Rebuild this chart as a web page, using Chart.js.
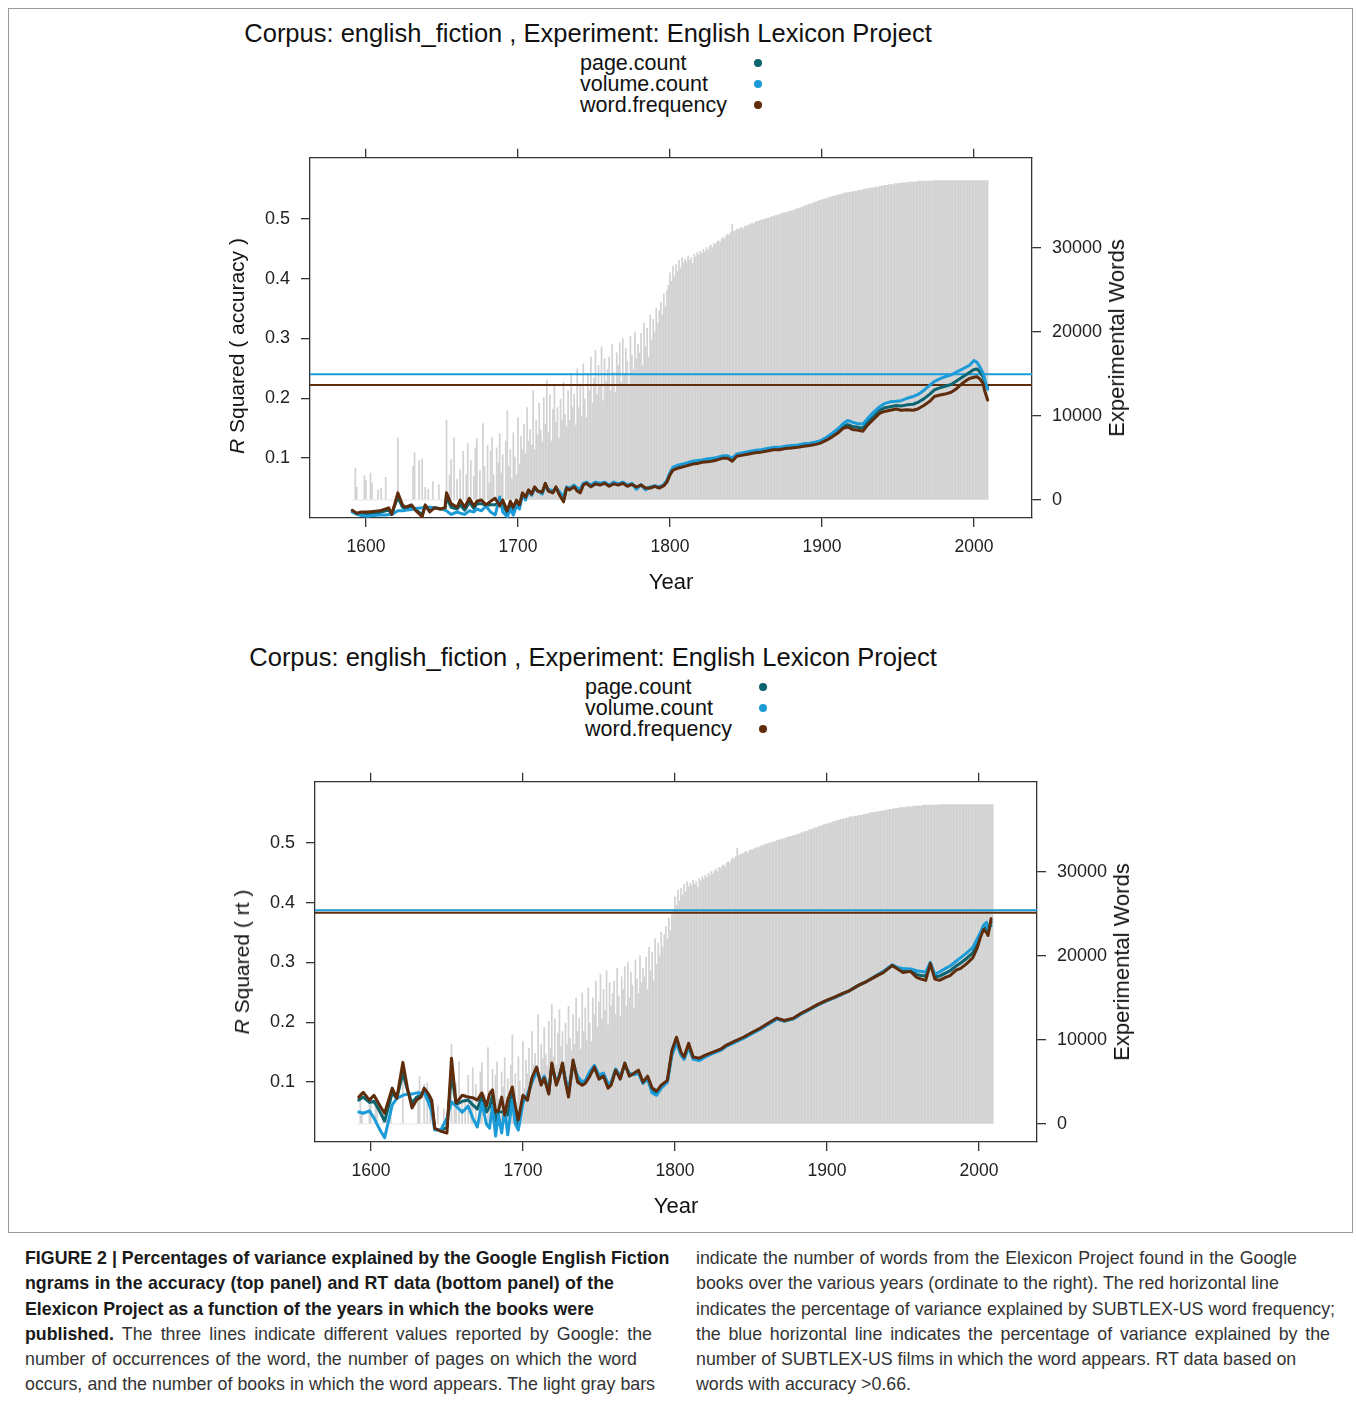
<!DOCTYPE html>
<html>
<head>
<meta charset="utf-8">
<title>Google English Fiction ngrams - ELP</title>
<script src="https://cdn.jsdelivr.net/npm/chart.js@4.4.1/dist/chart.umd.min.js"></script>
<style>
  body { margin: 0; width: 1356px; height: 1405px; background: #fff; position: relative; font-family: 'Liberation Sans', Arial, Helvetica, sans-serif; color: #111; overflow: hidden; }
  .frame { position: absolute; left: 8px; top: 8px; width: 1345px; height: 1225px; border: 1px solid #9a9a9a; box-sizing: border-box; }
  .panel { position: absolute; left: 0; top: 0; width: 1356px; height: 620px; }
  .title { position: absolute; left: 88px; width: 1000px; top: 18px; line-height: 30px; font-size: 25.5px; text-align: center; white-space: nowrap; }
  .legend { position: absolute; left: 580px; top: 53px; font-size: 21.5px; line-height: 21px; }
  .dot { position: absolute; left: 754px; width: 8px; height: 8px; border-radius: 50%; }
  .rot { position: absolute; font-size: 21px; white-space: nowrap; transform: translate(-50%, -50%) rotate(-90deg); }
  .rot.r2 { font-size: 22px; }
  .xlab { position: absolute; font-size: 22px; transform: translate(-50%, -50%); }
  canvas { position: absolute; left: 200px; top: 136px; }
  .caption { position: absolute; top: 1246px; font-size: 17.8px; line-height: 25.3px; color: #333; }
  .caption div { white-space: nowrap; text-align: justify; text-align-last: justify; }
  .caption div.last { text-align-last: left; }
  .caption b { color: #1a1a1a; }
</style>
</head>
<body>
<div class="frame"></div>

<div class="panel" id="panelTop">
  <div class="title">Corpus: english_fiction , Experiment: English Lexicon Project</div>
  <div class="legend">page.count<br>volume.count<br>word.frequency</div>
  <span class="dot" style="top:59px;background:#0b6470"></span>
  <span class="dot" style="top:80px;background:#1b9bd7"></span>
  <span class="dot" style="top:101px;background:#5f2c0c"></span>
  <canvas id="chartTop" width="1000" height="474"></canvas>
  <div class="rot" style="left:237px;top:346px"><i>R</i> Squared ( accuracy )</div>
  <div class="rot r2" style="left:1117px;top:338px">Experimental Words</div>
  <div class="xlab" style="left:671px;top:582px">Year</div>
</div>

<div class="panel" id="panelBottom" style="left:5px;top:624px">
  <div class="title">Corpus: english_fiction , Experiment: English Lexicon Project</div>
  <div class="legend">page.count<br>volume.count<br>word.frequency</div>
  <span class="dot" style="top:59px;background:#0b6470"></span>
  <span class="dot" style="top:80px;background:#1b9bd7"></span>
  <span class="dot" style="top:101px;background:#5f2c0c"></span>
  <canvas id="chartBottom" width="1000" height="474"></canvas>
  <div class="rot" style="left:237px;top:338px"><i>R</i> Squared ( rt )</div>
  <div class="rot r2" style="left:1117px;top:338px">Experimental Words</div>
  <div class="xlab" style="left:671px;top:582px">Year</div>
</div>

<div class="caption" style="left:25px">
  <div style="width:640px"><b>FIGURE 2 | Percentages of variance explained by the Google English Fiction</b></div>
  <div style="width:589px"><b>ngrams in the accuracy (top panel) and RT data (bottom panel) of the</b></div>
  <div style="width:569px"><b>Elexicon Project as a function of the years in which the books were</b></div>
  <div style="width:627px"><b>published.</b> The three lines indicate different values reported by Google: the</div>
  <div style="width:612px">number of occurrences of the word, the number of pages on which the word</div>
  <div style="width:630px">occurs, and the number of books in which the word appears. The light gray bars</div>
</div>
<div class="caption" style="left:696px">
  <div style="width:601px">indicate the number of words from the Elexicon Project found in the Google</div>
  <div style="width:580px">books over the various years (ordinate to the right). The red horizontal line</div>
  <div style="width:639px">indicates the percentage of variance explained by SUBTLEX-US word frequency;</div>
  <div style="width:634px">the blue horizontal line indicates the percentage of variance explained by the</div>
  <div style="width:580px">number of SUBTLEX-US films in which the word appears. RT data based on</div>
  <div class="last">words with accuracy &gt;0.66.</div>
</div>

<script>
// ==================== DATA ====================
// gray bars: number of ELP words found per year (right axis), one value per year from barStartYear
const barStartYear = 1591;
const barCounts = [
    0, 0, 3800, 1500, 0, 0, 0, 0, 2900,
    2300, 0, 0, 3200, 2000, 0, 0, 0, 1200, 0,
    1400, 0, 0, 2700, 0, 0, 0, 0, 0, 0,
    0, 7400, 0, 0, 0, 0, 0, 0, 0, 0,
    0, 4000, 5600, 0, 0, 4700, 0, 4900, 0, 1500,
    0, 1300, 0, 0, 2200, 0, 0, 0, 1800, 0,
    0, 0, 0, 9500, 0, 3000, 4800, 0, 7400, 0,
    2500, 0, 3600, 0, 5800, 0, 3000, 6700, 0, 4700,
    0, 2800, 6200, 7300, 0, 3500, 0, 9100, 4000, 0,
    6500, 2000, 5800, 7400, 3000, 0, 6200, 4400, 7900, 3200,
    5400, 0, 7000, 10600, 4000, 6000, 2500, 8000, 5100, 3000,
    9800, 4200, 7600, 6000, 9000, 5500, 11000, 7000, 8400, 6500,
    13000, 6000, 9500, 7800, 11500, 8300, 6900, 12200, 9000, 14200,
    8000, 12500, 7000, 10800, 13600, 9200, 11000, 7400, 12000, 9500,
    14000, 10200, 8800, 13000, 9500, 15000, 11000, 12600, 8900, 15600,
    11000, 13800, 10000, 16200, 12000, 9800, 15000, 13000, 17000, 11500,
    14500, 17800, 12500, 16000, 13500, 18200, 11800, 16800, 14000, 15500,
    17000, 13000, 18500, 15200, 12800, 17500, 16000, 18700, 14000, 19200,
    15000, 18000, 16500, 13800, 19500, 17200, 15500, 20000, 16800, 18500,
    17500, 19800, 16000, 21000, 18200, 20400, 17000, 22000, 19000, 21500,
    20000, 22800, 21000, 22500, 23500, 22000, 24500, 23000, 24900, 25500,
    27000, 26000, 27800, 26500, 28000, 27200, 28500, 27600, 28800, 28200,
    28600, 28300, 29000, 28500, 28800, 28100, 29200, 28900, 29400, 29100,
    29600, 29300, 29800, 29500, 30000, 29700, 30100, 30300, 30000, 30500,
    30400, 30700, 30800, 30600, 31000, 31200, 31000, 31400, 31600, 31500,
    31800, 32800, 31900, 32000, 32200, 32100, 32300, 32400, 32200, 32500,
    32600, 32600, 32700, 32800, 32900, 32800, 33000, 33100, 33100, 33200,
    33300, 33300, 33400, 33400, 33500, 33500, 33600, 33700, 33700, 33800,
    33800, 33900, 33900, 34000, 34100, 34100, 34200, 34200, 34300, 34300,
    34400, 34400, 34500, 34600, 34600, 34700, 34800, 34800, 34900, 35000,
    35000, 35100, 35200, 35200, 35300, 35400, 35400, 35500, 35600, 35600,
    35700, 35700, 35800, 35800, 35900, 36000, 36000, 36100, 36100, 36200,
    36200, 36300, 36300, 36400, 36400, 36500, 36500, 36500, 36600, 36600,
    36600, 36700, 36700, 36700, 36800, 36800, 36800, 36900, 36900, 37000,
    37000, 37000, 37100, 37100, 37100, 37200, 37200, 37200, 37300, 37300,
    37300, 37400, 37400, 37400, 37500, 37500, 37500, 37500, 37600, 37600,
    37600, 37600, 37700, 37700, 37700, 37700, 37700, 37800, 37800, 37800,
    37800, 37800, 37800, 37900, 37900, 37900, 37900, 37900, 37900, 37900,
    37900, 37900, 37900, 37900, 37950, 37950, 37950, 37950, 37950, 37950,
    37950, 37950, 37950, 37950, 37950, 37950, 37950, 37950, 37950, 37950,
    37950, 37950, 37950, 37950, 37950, 37950, 37950, 37950, 37950, 37950,
    37950, 37950, 37950, 37950, 37950, 37950, 37950, 37950, 37950, 37950
];

// top panel: R squared (accuracy)
const accYears = [
    1591, 1594, 1597, 1601, 1605, 1609, 1613, 1615, 1617, 1621,
    1624, 1626, 1630, 1633, 1637, 1639, 1642, 1645, 1649, 1652,
    1653, 1656, 1660, 1662, 1665, 1668, 1671, 1673, 1676, 1679,
    1682, 1685, 1688, 1690, 1693, 1695, 1697, 1699, 1701, 1703,
    1705, 1707, 1709, 1711, 1713, 1716, 1718, 1720, 1723, 1725,
    1727, 1730, 1732, 1734, 1737, 1739, 1741, 1743, 1745, 1748,
    1751, 1754, 1757, 1760, 1763, 1766, 1769, 1772, 1775, 1778,
    1781, 1784, 1787, 1790, 1793, 1796, 1798, 1800, 1802, 1805,
    1808, 1811, 1815, 1818, 1821, 1825, 1828, 1831, 1835, 1838,
    1841, 1844, 1848, 1852, 1856, 1860, 1864, 1868, 1872, 1876,
    1880, 1884, 1888, 1892, 1896, 1899, 1903, 1907, 1911, 1914,
    1917, 1920, 1923, 1927, 1930, 1934, 1938, 1941, 1945, 1949,
    1952, 1956, 1960, 1963, 1967, 1971, 1974, 1977, 1981, 1985,
    1988, 1991, 1994, 1997, 2000, 2002, 2004, 2006, 2007, 2008,
    2009
];
const accPageCount = [
    0.012, 0.007, 0.008, 0.007, 0.008, 0.009, 0.012, 0.013, 0.007, 0.035,
    0.018, 0.016, 0.019, 0.013, 0.006, 0.020, 0.012, 0.017, 0.015, 0.015,
    0.035, 0.018, 0.015, 0.022, 0.013, 0.026, 0.016, 0.024, 0.024, 0.021,
    0.022, 0.022, 0.026, 0.022, 0.008, 0.024, 0.012, 0.026, 0.019, 0.041,
    0.033, 0.046, 0.039, 0.051, 0.045, 0.042, 0.057, 0.046, 0.043, 0.051,
    0.042, 0.030, 0.051, 0.048, 0.053, 0.047, 0.045, 0.056, 0.059, 0.053,
    0.058, 0.056, 0.059, 0.054, 0.058, 0.056, 0.059, 0.054, 0.057, 0.050,
    0.055, 0.048, 0.051, 0.053, 0.051, 0.055, 0.061, 0.074, 0.082, 0.085,
    0.087, 0.089, 0.092, 0.093, 0.095, 0.096, 0.097, 0.099, 0.102, 0.102,
    0.097, 0.105, 0.107, 0.109, 0.111, 0.112, 0.114, 0.116, 0.116, 0.118,
    0.119, 0.120, 0.122, 0.123, 0.125, 0.127, 0.132, 0.139, 0.146, 0.153,
    0.156, 0.153, 0.152, 0.150, 0.160, 0.170, 0.180, 0.184, 0.186, 0.188,
    0.187, 0.189, 0.190, 0.193, 0.199, 0.207, 0.214, 0.217, 0.220, 0.223,
    0.228, 0.233, 0.238, 0.243, 0.248, 0.249, 0.244, 0.236, 0.228, 0.222,
    0.218
];
const accVolumeCount = [
    0.010, 0.006, 0.004, 0.003, 0.004, 0.005, 0.005, 0.006, 0.006, 0.012,
    0.012, 0.013, 0.014, 0.016, 0.017, 0.018, 0.018, 0.017, 0.016, 0.013,
    0.012, 0.006, 0.010, 0.008, 0.006, 0.012, 0.010, 0.015, 0.012, 0.020,
    0.010, 0.005, 0.035, 0.010, 0.002, 0.015, 0.005, 0.020, 0.015, 0.040,
    0.030, 0.045, 0.038, 0.050, 0.045, 0.040, 0.055, 0.048, 0.045, 0.050,
    0.045, 0.035, 0.052, 0.050, 0.055, 0.050, 0.048, 0.058, 0.060, 0.055,
    0.060, 0.058, 0.060, 0.055, 0.060, 0.057, 0.060, 0.055, 0.058, 0.048,
    0.056, 0.047, 0.052, 0.054, 0.052, 0.056, 0.063, 0.076, 0.085, 0.088,
    0.090, 0.092, 0.095, 0.096, 0.097, 0.099, 0.100, 0.101, 0.104, 0.104,
    0.100, 0.107, 0.109, 0.111, 0.113, 0.114, 0.116, 0.118, 0.118, 0.120,
    0.121, 0.122, 0.124, 0.125, 0.127, 0.129, 0.135, 0.142, 0.150, 0.158,
    0.163, 0.160, 0.158, 0.157, 0.166, 0.177, 0.186, 0.191, 0.194, 0.195,
    0.196, 0.200, 0.203, 0.206, 0.213, 0.222, 0.228, 0.232, 0.236, 0.239,
    0.243, 0.247, 0.251, 0.255, 0.263, 0.260, 0.252, 0.242, 0.233, 0.222,
    0.215
];
const accWordFrequency = [
    0.013, 0.008, 0.010, 0.010, 0.011, 0.012, 0.015, 0.017, 0.006, 0.042,
    0.022, 0.018, 0.022, 0.012, 0.002, 0.022, 0.010, 0.017, 0.015, 0.017,
    0.042, 0.024, 0.018, 0.030, 0.018, 0.033, 0.020, 0.028, 0.030, 0.022,
    0.028, 0.033, 0.020, 0.030, 0.012, 0.028, 0.018, 0.030, 0.022, 0.042,
    0.035, 0.047, 0.040, 0.052, 0.045, 0.043, 0.058, 0.045, 0.042, 0.052,
    0.040, 0.027, 0.050, 0.047, 0.052, 0.045, 0.042, 0.055, 0.058, 0.052,
    0.057, 0.055, 0.058, 0.053, 0.057, 0.055, 0.058, 0.053, 0.056, 0.052,
    0.055, 0.050, 0.050, 0.053, 0.050, 0.054, 0.060, 0.072, 0.080, 0.083,
    0.085, 0.087, 0.090, 0.091, 0.093, 0.094, 0.095, 0.097, 0.100, 0.100,
    0.095, 0.103, 0.105, 0.107, 0.109, 0.110, 0.112, 0.114, 0.114, 0.116,
    0.117, 0.118, 0.120, 0.121, 0.123, 0.125, 0.130, 0.136, 0.143, 0.150,
    0.152, 0.148, 0.147, 0.145, 0.155, 0.165, 0.175, 0.178, 0.180, 0.182,
    0.180, 0.181, 0.180, 0.182, 0.188, 0.195, 0.203, 0.205, 0.207, 0.210,
    0.215, 0.222, 0.228, 0.233, 0.235, 0.236, 0.232, 0.225, 0.213, 0.205,
    0.197
];
const accSubtlexFilms = 0.240;   // blue horizontal line
const accSubtlexFreq = 0.222;    // brown horizontal line

// bottom panel: R squared (rt)
const rtYears = [
    1592, 1595, 1599, 1602, 1606, 1609, 1614, 1617, 1621, 1624,
    1627, 1630, 1633, 1635, 1638, 1640, 1642, 1646, 1650, 1653,
    1656, 1660, 1664, 1667, 1670, 1673, 1676, 1678, 1680, 1682,
    1684, 1686, 1688, 1690, 1693, 1695, 1697, 1700, 1703, 1706,
    1709, 1712, 1714, 1717, 1719, 1722, 1724, 1726, 1728, 1730,
    1733, 1736, 1739, 1741, 1744, 1747, 1750, 1753, 1756, 1758,
    1761, 1764, 1767, 1770, 1773, 1776, 1779, 1782, 1785, 1788,
    1791, 1795, 1798, 1801, 1804, 1806, 1809, 1812, 1816, 1820,
    1825, 1830, 1834, 1839, 1845, 1850, 1856, 1861, 1867, 1872,
    1878, 1883, 1889, 1894, 1900, 1905, 1910, 1915, 1921, 1926,
    1933, 1937, 1943, 1947, 1950, 1955, 1959, 1962, 1965, 1968,
    1971, 1974, 1978, 1981, 1985, 1988, 1992, 1996, 1999, 2001,
    2003, 2005, 2006, 2008
];
const rtPageCount = [
    0.070, 0.075, 0.066, 0.068, 0.050, 0.035, 0.082, 0.073, 0.115, 0.087,
    0.065, 0.075, 0.078, 0.087, 0.075, 0.062, 0.022, 0.019, 0.025, 0.115,
    0.063, 0.068, 0.070, 0.062, 0.055, 0.076, 0.050, 0.058, 0.078, 0.035,
    0.050, 0.050, 0.050, 0.045, 0.085, 0.048, 0.030, 0.074, 0.074, 0.105,
    0.122, 0.097, 0.108, 0.082, 0.129, 0.097, 0.111, 0.130, 0.102, 0.080,
    0.134, 0.105, 0.097, 0.100, 0.113, 0.126, 0.108, 0.112, 0.093, 0.097,
    0.121, 0.107, 0.130, 0.112, 0.113, 0.117, 0.099, 0.107, 0.086, 0.081,
    0.092, 0.101, 0.149, 0.170, 0.147, 0.140, 0.161, 0.140, 0.138, 0.143,
    0.149, 0.154, 0.161, 0.167, 0.174, 0.181, 0.189, 0.197, 0.206, 0.202,
    0.206, 0.214, 0.222, 0.229, 0.236, 0.241, 0.247, 0.253, 0.262, 0.268,
    0.278, 0.284, 0.295, 0.290, 0.286, 0.287, 0.280, 0.278, 0.277, 0.299,
    0.276, 0.277, 0.282, 0.286, 0.294, 0.299, 0.307, 0.316, 0.332, 0.346,
    0.358, 0.358, 0.350, 0.368
];
const rtVolumeCount = [
    0.050, 0.048, 0.052, 0.040, 0.020, 0.007, 0.062, 0.073, 0.078, 0.080,
    0.080, 0.082, 0.082, 0.083, 0.065, 0.050, 0.020, 0.020, 0.040, 0.067,
    0.060, 0.050, 0.060, 0.040, 0.025, 0.065, 0.030, 0.023, 0.060, 0.010,
    0.045, 0.015, 0.055, 0.012, 0.070, 0.030, 0.020, 0.065, 0.080, 0.100,
    0.118, 0.100, 0.110, 0.085, 0.125, 0.100, 0.112, 0.128, 0.105, 0.085,
    0.130, 0.110, 0.100, 0.103, 0.118, 0.128, 0.112, 0.115, 0.097, 0.100,
    0.122, 0.110, 0.128, 0.115, 0.112, 0.115, 0.098, 0.105, 0.082, 0.078,
    0.090, 0.100, 0.145, 0.165, 0.145, 0.138, 0.158, 0.138, 0.136, 0.142,
    0.148, 0.153, 0.160, 0.166, 0.173, 0.180, 0.188, 0.196, 0.205, 0.202,
    0.206, 0.214, 0.222, 0.229, 0.236, 0.241, 0.247, 0.253, 0.262, 0.268,
    0.279, 0.285, 0.296, 0.291, 0.290, 0.289, 0.286, 0.285, 0.284, 0.300,
    0.280, 0.284, 0.290, 0.294, 0.302, 0.308, 0.316, 0.325, 0.340, 0.350,
    0.362, 0.367, 0.355, 0.362
];
const rtWordFrequency = [
    0.075, 0.083, 0.070, 0.078, 0.060, 0.048, 0.090, 0.073, 0.133, 0.090,
    0.057, 0.070, 0.075, 0.090, 0.080, 0.070, 0.023, 0.018, 0.015, 0.140,
    0.065, 0.078, 0.075, 0.074, 0.070, 0.082, 0.060, 0.080, 0.087, 0.050,
    0.053, 0.075, 0.045, 0.070, 0.092, 0.060, 0.037, 0.078, 0.070, 0.108,
    0.125, 0.095, 0.107, 0.080, 0.132, 0.095, 0.110, 0.132, 0.100, 0.075,
    0.137, 0.100, 0.095, 0.098, 0.110, 0.125, 0.105, 0.110, 0.090, 0.095,
    0.120, 0.105, 0.132, 0.110, 0.115, 0.120, 0.100, 0.110, 0.090, 0.085,
    0.095, 0.103, 0.153, 0.175, 0.150, 0.142, 0.165, 0.142, 0.140, 0.145,
    0.150, 0.155, 0.162, 0.168, 0.175, 0.182, 0.190, 0.198, 0.207, 0.203,
    0.207, 0.215, 0.223, 0.230, 0.237, 0.242, 0.248, 0.253, 0.262, 0.268,
    0.278, 0.283, 0.295, 0.288, 0.283, 0.285, 0.275, 0.272, 0.270, 0.298,
    0.272, 0.270, 0.275, 0.278, 0.287, 0.290, 0.298, 0.308, 0.325, 0.342,
    0.355, 0.350, 0.345, 0.373
];
const rtSubtlexFilms = 0.387;
const rtSubtlexFreq = 0.383;

// axes
const yearMin = 1563.2, yearMax = 2038.2;
const yearTicks = [1600, 1700, 1800, 1900, 2000];
const rsqTicks = [0.1, 0.2, 0.3, 0.4, 0.5];
const rsqMax = 0.6017;
const wordTicks = [0, 10000, 20000, 30000];
const wordMin = -2134, wordMax = 40672;

// ==================== STYLE ====================
const FONT = "'Liberation Sans', Arial, Helvetica, sans-serif";
const PAGE_COLOR = '#0b6470';
const VOLUME_COLOR = '#1b9bd7';
const WORD_COLOR = '#5f2c0c';
const BAR_COLOR = '#d2d2d2';
const AXIS_COLOR = '#333';

Chart.defaults.font.family = FONT;
Chart.defaults.color = '#222';

function toPoints(xs, ys) {
    return xs.map((x, i) => ({ x: x, y: ys[i] }));
}

function axisCommon(extra) {
    return Object.assign({
        offset: false,
        grid: { display: true, offset: false, drawOnChartArea: false, drawTicks: true, tickLength: 9, color: AXIS_COLOR, lineWidth: 1.3 },
        border: { display: true, color: AXIS_COLOR, width: 1.3 },
    }, extra);
}

function makePanel(canvasId, years, page, volume, word, filmsRef, freqRef) {
    const ctx = document.getElementById(canvasId).getContext('2d');
    const line = (label, data, color, order) => ({
        type: 'line', label: label, data: toPoints(years, data), yAxisID: 'y', xAxisID: 'x',
        borderColor: color, borderWidth: 3, pointRadius: 0, tension: 0, order: order,
        borderJoinStyle: 'round', borderCapStyle: 'round'
    });
    const hline = (label, value, color, order) => ({
        type: 'line', label: label, data: [{ x: yearMin, y: value }, { x: yearMax, y: value }],
        yAxisID: 'y', xAxisID: 'x', borderColor: color, borderWidth: 2, pointRadius: 0, order: order
    });

    return new Chart(ctx, {
        data: {
            datasets: [
                line('word.frequency', word, WORD_COLOR, 1),
                line('volume.count', volume, VOLUME_COLOR, 2),
                line('page.count', page, PAGE_COLOR, 3),
                hline('SUBTLEX-US word frequency', freqRef, WORD_COLOR, 4),
                hline('SUBTLEX-US films', filmsRef, VOLUME_COLOR, 5),
                {
                    type: 'bar', label: 'Experimental Words',
                    data: barCounts.map((c, i) => ({ x: barStartYear + i, y: c })),
                    yAxisID: 'y2', xAxisID: 'x', backgroundColor: BAR_COLOR, borderWidth: 0,
                    barThickness: 1.05, order: 6
                }
            ]
        },
        options: {
            responsive: false,
            animation: false,
            events: [],
            // chart area ends up at x 110..832, y 21..382 inside the canvas
            layout: { padding: { left: 50, right: 98, top: 1, bottom: 52 } },
            plugins: { legend: { display: false }, tooltip: { enabled: false }, title: { display: false } },
            scales: {
                x: axisCommon({
                    type: 'linear', position: 'bottom', min: yearMin, max: yearMax,
                    afterFit: s => { s.height = 40; },
                    afterBuildTicks: s => { s.ticks = yearTicks.map(v => ({ value: v })); },
                    ticks: { font: { size: 17.5 }, padding: 10, maxRotation: 0, callback: v => String(v) }
                }),
                xTop: axisCommon({
                    type: 'linear', position: 'top', min: yearMin, max: yearMax,
                    afterFit: s => { s.height = 20; },
                    afterBuildTicks: s => { s.ticks = yearTicks.map(v => ({ value: v })); },
                    ticks: { display: false }
                }),
                y: axisCommon({
                    type: 'linear', position: 'left', min: 0, max: rsqMax,
                    afterFit: s => { s.width = 60; },
                    afterBuildTicks: s => { s.ticks = rsqTicks.map(v => ({ value: v })); },
                    ticks: { font: { size: 18 }, padding: 11, callback: v => v.toFixed(1) }
                }),
                y2: axisCommon({
                    type: 'linear', position: 'right', min: wordMin, max: wordMax,
                    afterFit: s => { s.width = 70; },
                    afterBuildTicks: s => { s.ticks = wordTicks.map(v => ({ value: v })); },
                    ticks: { font: { size: 18 }, padding: 11, callback: v => String(v) }
                })
            }
        }
    });
}

// ==================== INITIAL PAGE LOAD ====================
makePanel('chartTop', accYears, accPageCount, accVolumeCount, accWordFrequency, accSubtlexFilms, accSubtlexFreq);
makePanel('chartBottom', rtYears, rtPageCount, rtVolumeCount, rtWordFrequency, rtSubtlexFilms, rtSubtlexFreq);
</script>
</body>
</html>
